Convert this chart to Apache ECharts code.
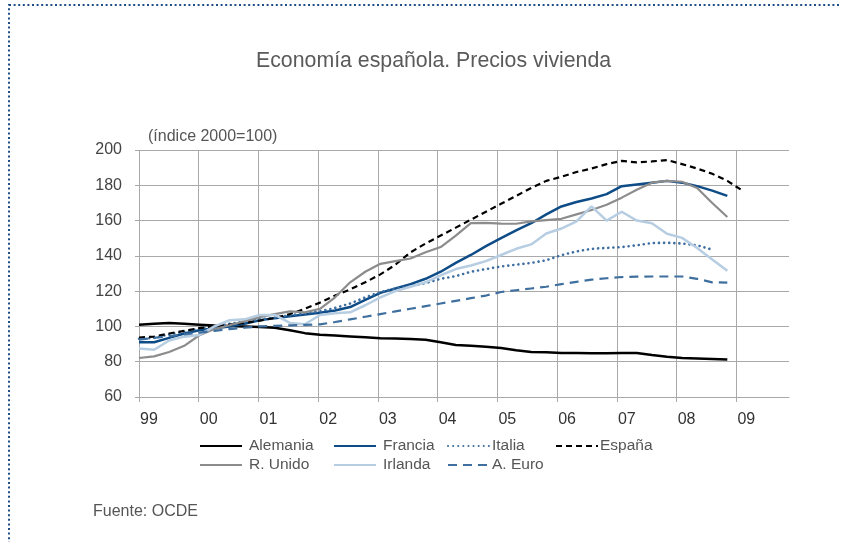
<!DOCTYPE html>
<html>
<head>
<meta charset="utf-8">
<script src="https://cdn.jsdelivr.net/npm/echarts@6/dist/echarts.min.js"></script>
<style>
html,body{margin:0;padding:0;background:#fff;}
#chart{width:841px;height:542px;}
</style>
</head>
<body>
<div id="chart"></div>
<script>
// ---- Data (índice 2000=100), quarterly from 1999 T1 ----
const yearLabels = ['99','00','01','02','03','04','05','06','07','08','09'];
const yTicks = [60, 80, 100, 120, 140, 160, 180, 200];
const seriesNames = ['Alemania','Francia','Italia','España','R. Unido','Irlanda','A. Euro'];

const alemania = [101,101.5,102,101.5,101,100.5,100.3,100,99.7,99.2,97.8,96.2,95.3,94.8,94.3,93.8,
  93.3,93.1,92.9,92.5,91,89.5,89,88.5,87.8,86.5,85.5,85.3,85,84.9,84.8,84.8,84.9,85,83.8,82.8,82.1,81.8,81.5,81.2];
const francia = [91,91,93.5,96,97.8,99,100,101.5,103.5,104.7,105.8,106.8,107.7,109,111,115,
  119,121.5,124,127,131,136,140.5,145.5,150,154.5,158.5,163.5,168,170.5,172.5,175,179.5,180.5,181.5,182.5,181.5,179.5,177,174];
const italia = [93,93.5,95.5,97,98.8,100,101.5,102.8,104,105,106.3,107.5,108.6,110.5,113,116.5,
  119.5,121.5,123,124.5,127,128.5,131,132.5,134,135,136,137.5,140.4,142.5,144,144.5,145,146,147.3,147.4,147,146,143.5];
const espana = [93.7,94.2,96,97.5,99,100,101,102,103.3,104.8,107,110,113.5,117.5,121,125,
  129.5,135,142,147,151.5,156,160.5,165,169.5,174,178.5,182.5,184.8,187.5,189.5,192,193.8,193,193.5,194.3,192,189.5,186.5,182.5,177];
const rUnido = [82.1,83,85.5,89,95,98.5,100.7,103,105.3,107,108.5,108,110,116.5,125,131,
  135.5,137,138.5,142,145,151.5,158.5,158.7,158.3,158.2,159.5,160.3,161,163.5,166,169,173,177.5,181.5,182.5,182,178.5,170,162];
const irlanda = [87.5,86.8,92,94.2,95.2,100,103.5,104,106.5,106.5,102,101.2,106.5,107.5,108,112,
  116.5,120,122.5,125,129,132.5,134.5,137,140.5,144,146.5,152.7,155.5,159.5,168,160,165,160,158.5,152.5,150.2,144.5,138,131.5];
const aEuro = [92.5,93.5,94.5,95.5,96.5,97.5,98.5,99.3,100,100.3,100.6,100.9,101.2,102.5,104,105.5,
  107,108.5,110,111.5,113,114.5,116,117.5,119.5,120.5,121.5,122.5,124,125.3,126.5,127.3,128,128.2,128.3,128.3,128.3,127,125,124.8];

// ---- Layout / style ----
const startYear = 1999;
const pointSpacing = 0.2525; // axis distance between successive quarterly observations
function toXY(arr) { return arr.map((v, i) => [startYear + i * pointSpacing, v]); }

const font = 'Liberation Sans, Arial, Helvetica, sans-serif';
const gridColor = '#a9a9a9';
const textColor = '#555555';

const styles = {
  'Alemania': { color: '#000000', width: 2.5, type: 'solid' },
  'Francia':  { color: '#0e4c87', width: 2.5, type: 'solid' },
  'Italia':   { color: '#3d6e9f', width: 2.6, type: [0.1, 5], cap: 'round' },
  'España':   { color: '#000000', width: 2.2, type: [6, 4] },
  'R. Unido': { color: '#8c8c8c', width: 2.2, type: 'solid' },
  'Irlanda':  { color: '#b6cde2', width: 2.5, type: 'solid' },
  'A. Euro':  { color: '#3f6f9e', width: 2.2, type: [9, 6] }
};
const dataByName = {
  'Alemania': alemania, 'Francia': francia, 'Italia': italia, 'España': espana,
  'R. Unido': rUnido, 'Irlanda': irlanda, 'A. Euro': aEuro
};

const legendPos = {
  'Alemania': [199, 438], 'Francia': [333, 438], 'Italia': [447, 438], 'España': [555, 438],
  'R. Unido': [199, 457], 'Irlanda': [333, 457], 'A. Euro': [447, 457]
};

const yearTicks = yearLabels.map((_, i) => startYear + i);

const option = {
  animation: false,
  backgroundColor: '#ffffff',
  title: {
    text: 'Economía española. Precios vivienda',
    left: 251, top: 46,
    textStyle: { fontFamily: font, fontSize: 21.3, fontWeight: 'normal', color: '#5a5a5a' }
  },
  graphic: [
    { type: 'rect', shape: { x: 9, y: 5, width: 1000, height: 700 }, silent: true,
      style: { fill: 'none', stroke: '#1f4f86', lineWidth: 2, lineDash: [2, 2.6] } },
    { type: 'text', left: 148, top: 129,
      style: { text: '(índice 2000=100)', font: '16px ' + font, fill: textColor } },
    { type: 'text', left: 93, top: 504,
      style: { text: 'Fuente: OCDE', font: '16px ' + font, fill: textColor } }
  ],
  legend: seriesNames.map(n => ({
    data: [n],
    left: legendPos[n][0], top: legendPos[n][1],
    itemWidth: 42, itemHeight: 14, padding: 0,
    selectedMode: false,
    itemStyle: { color: 'rgba(0,0,0,0)', borderWidth: 0, opacity: 0 },
    textStyle: { fontFamily: font, fontSize: 15.5, color: textColor,
      padding: (n === 'Italia' || n === 'A. Euro' || n === 'España') ? [0, 0, 0, -3] : [0, 0, 0, 2] }
  })),
  grid: { left: 139, top: 150, right: 52, bottom: 145, containLabel: false },
  xAxis: {
    type: 'value', min: 1999, max: 2009.88, interval: 1,
    axisLine: { show: true, lineStyle: { color: gridColor, width: 1 } },
    axisTick: { show: true, length: 5, customValues: yearTicks, lineStyle: { color: gridColor } },
    axisLabel: {
      customValues: yearTicks,
      formatter: v => { const k = Math.round(v) - startYear; return (Math.abs(v - Math.round(v)) < 1e-6 && yearLabels[k] !== undefined) ? yearLabels[k] : ''; },
      align: 'left', margin: 15, padding: [0, 0, 0, 1],
      fontFamily: font, fontSize: 16, color: '#333333'
    },
    splitLine: { show: true, lineStyle: { color: [gridColor,gridColor,gridColor,gridColor,gridColor,gridColor,gridColor,gridColor,gridColor,gridColor,gridColor,'rgba(0,0,0,0)'], width: 1 } }
  },
  yAxis: {
    type: 'value', min: yTicks[0], max: yTicks[yTicks.length - 1], interval: 20,
    axisLine: { show: false },
    axisTick: { show: true, length: 4, lineStyle: { color: gridColor } },
    axisLabel: { margin: 17, fontFamily: font, fontSize: 16, color: '#444444' },
    splitLine: { show: true, lineStyle: { color: gridColor, width: 1 } }
  },
  series: seriesNames.map(n => ({
    name: n, type: 'line', data: toXY(dataByName[n]),
    symbol: 'none', smooth: false,
    lineStyle: { color: styles[n].color, width: styles[n].width, type: styles[n].type, cap: styles[n].cap || 'butt' },
    itemStyle: { color: styles[n].color }
  }))
};

const chart = echarts.init(document.getElementById('chart'), null, { renderer: 'canvas' });
chart.setOption(option);
</script>
</body>
</html>
